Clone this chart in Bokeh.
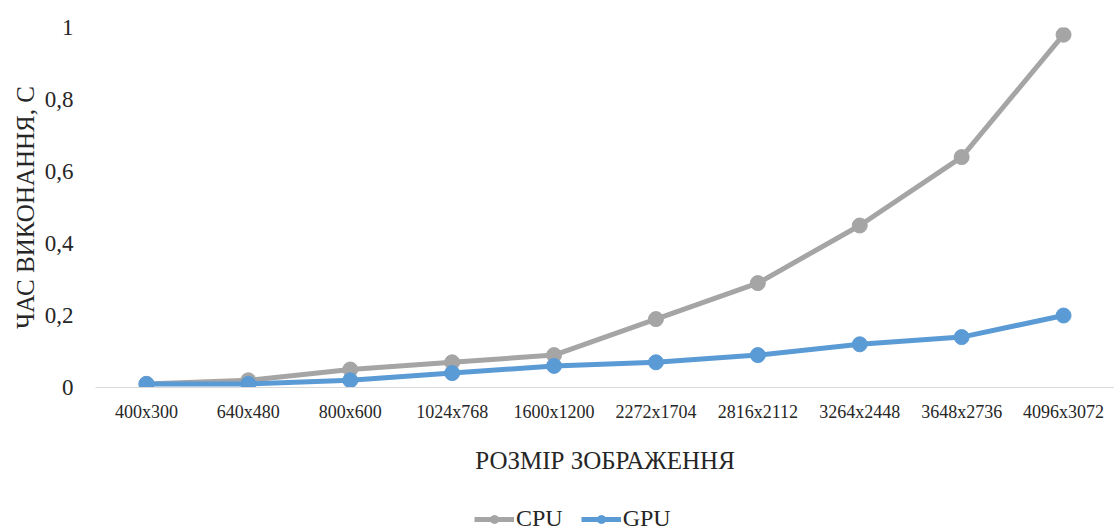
from bokeh.plotting import figure
from bokeh.layouts import column
from bokeh.models import FactorRange, Range1d, Legend, LegendItem, CustomJSTickFormatter, FixedTicker
from bokeh.embed import file_html
from bokeh.resources import INLINE

categories = ["400x300", "640x480", "800x600", "1024x768", "1600x1200",
              "2272x1704", "2816x2112", "3264x2448", "3648x2736", "4096x3072"]
cpu = [0.01, 0.02, 0.05, 0.07, 0.09, 0.19, 0.29, 0.45, 0.64, 0.98]
gpu = [0.01, 0.01, 0.02, 0.04, 0.06, 0.07, 0.09, 0.12, 0.14, 0.20]
y_ticks = [0, 0.2, 0.4, 0.6, 0.8, 1.0]

FONT = "Liberation Serif"
CPU_COLOR = "#A5A5A5"
GPU_COLOR = "#5B9BD5"
TEXT_COLOR = "#262626"

p = figure(x_range=FactorRange(*categories), y_range=Range1d(0, 1),
           frame_width=1019, frame_height=360, output_backend="svg", toolbar_location=None,
           min_border_left=95, min_border_right=0, min_border_top=27, min_border_bottom=115)
p.outline_line_color = None
p.xgrid.grid_line_color = None
p.ygrid.grid_line_color = None

p.line(categories, cpu, line_color=CPU_COLOR, line_width=5)
p.scatter(categories, cpu, size=15, fill_color=CPU_COLOR, line_color=CPU_COLOR)
p.line(categories, gpu, line_color=GPU_COLOR, line_width=5)
p.scatter(categories, gpu, size=15, fill_color=GPU_COLOR, line_color=GPU_COLOR)

# y axis
p.yaxis.ticker = FixedTicker(ticks=y_ticks)
p.yaxis.formatter = CustomJSTickFormatter(code="return tick.toFixed(1).replace(/\\.0$/, '').replace('.', ',');")
p.yaxis.axis_line_color = None
p.yaxis.major_tick_line_color = None
p.yaxis.minor_tick_line_color = None
p.yaxis.major_label_text_font = FONT
p.yaxis.major_label_text_font_size = "23px"
p.yaxis.major_label_text_color = TEXT_COLOR
p.yaxis.major_label_standoff = 16
p.yaxis.axis_label = "ЧАС ВИКОНАННЯ, С"
p.yaxis.axis_label_text_font = FONT
p.yaxis.axis_label_text_font_style = "normal"
p.yaxis.axis_label_text_font_size = "25px"
p.yaxis.axis_label_text_color = TEXT_COLOR
p.yaxis.axis_label_standoff = 3

# x axis
p.xaxis.axis_line_color = "#D9D9D9"
p.xaxis.axis_line_width = 1
p.xaxis.major_tick_line_color = None
p.xaxis.minor_tick_line_color = None
p.xaxis.major_label_text_font = FONT
p.xaxis.major_label_text_font_size = "18px"
p.xaxis.major_label_text_color = TEXT_COLOR
p.xaxis.major_label_standoff = 8
p.xaxis.axis_label = "РОЗМІР ЗОБРАЖЕННЯ"
p.xaxis.axis_label_text_font = FONT
p.xaxis.axis_label_text_font_style = "normal"
p.xaxis.axis_label_text_font_size = "25px"
p.xaxis.axis_label_text_color = TEXT_COLOR
p.xaxis.axis_label_standoff = 22

# legend strip below the chart (its sample glyphs sit outside the visible range)
lg = figure(width=1114, height=30, x_range=Range1d(0, 1), y_range=Range1d(0, 1),
            output_backend="svg", toolbar_location=None,
            x_axis_location=None, y_axis_location=None,
            min_border_left=0, min_border_right=0, min_border_top=0, min_border_bottom=0)
lg.outline_line_color = None
lg.xgrid.grid_line_color = None
lg.ygrid.grid_line_color = None
g1 = lg.line([5, 6], [5, 6], line_color=CPU_COLOR, line_width=5)
m1 = lg.scatter([5, 6], [5, 6], size=15, fill_color=CPU_COLOR, line_color=CPU_COLOR)
g2 = lg.line([5, 6], [5, 6], line_color=GPU_COLOR, line_width=5)
m2 = lg.scatter([5, 6], [5, 6], size=15, fill_color=GPU_COLOR, line_color=GPU_COLOR)

legend = Legend(items=[LegendItem(label="CPU", renderers=[g1, m1]),
                       LegendItem(label="GPU", renderers=[g2, m2])],
                orientation="horizontal", location=(379, 0),
                label_text_font=FONT, label_text_font_size="24px",
                label_text_color=TEXT_COLOR,
                glyph_width=40, glyph_height=20, label_height=20,
                label_standoff=2, spacing=18, padding=0, margin=0,
                border_line_color=None, background_fill_alpha=0)
lg.add_layout(legend, "center")

layout = column(p, lg, spacing=0)
open("out.html", "w").write(file_html(layout, INLINE))
